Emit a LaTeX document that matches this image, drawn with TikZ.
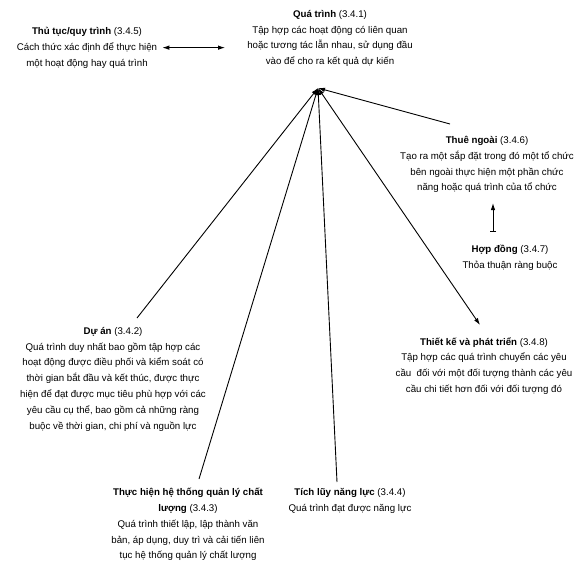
\documentclass[tikz,border=0pt]{standalone}
\usepackage{fontspec}
\setmainfont{Liberation Sans}
\usetikzlibrary{arrows.meta}
\begin{document}
\begin{tikzpicture}[x=1pt,y=1pt,
    txt/.style={align=center, inner sep=1pt, font=\fontsize{9.7}{15.8}\selectfont},
    conn/.style={line width=0.9pt, -{Latex[length=7pt,width=4.5pt]}},
    both/.style={line width=0.9pt, {Latex[length=7pt,width=4.5pt]}-{Latex[length=7pt,width=4.5pt]}}]
    \useasboundingbox (0,0) rectangle (576,-584);

    \node[txt, anchor=north] (qt) at (330,-9) {\textbf{Quá trình} (3.4.1)\\Tập hợp các hoạt động có liên quan\\hoặc tương tác lẫn nhau, sử dụng đầu\\vào để cho ra kết quả dự kiến};
    \node[txt, anchor=north] (tt) at (87,-26) {\textbf{Thủ tục/quy trình} (3.4.5)\\Cách thức xác định để thực hiện\\một hoạt động hay quá trình};
    \node[txt, anchor=north] (tn) at (487,-135) {\textbf{Thuê ngoài} (3.4.6)\\Tạo ra một sắp đặt trong đó một tổ chức\\bên ngoài thực hiện một phần chức\\năng hoặc quá trình của tổ chức};
    \node[txt, anchor=north] (hd) at (510,-244) {\textbf{Hợp đồng} (3.4.7)\\Thỏa thuận ràng buộc};
    \node[txt, anchor=north] (tk) at (484,-336) {\textbf{Thiết kế và phát triển} (3.4.8)\\Tập hợp các quá trình chuyển các yêu\\cầu\ \ đối với một đối tượng thành các yêu\\cầu chi tiết hơn đối với đối tượng đó};
    \node[txt, anchor=north] (da) at (113,-326) {\textbf{Dự án} (3.4.2)\\Quá trình duy nhất bao gồm tập hợp các\\hoạt động được điều phối và kiểm soát có\\thời gian bắt đầu và kết thúc, được thực\\hiện để đạt được mục tiêu phù hợp với các\\yêu cầu cụ thể, bao gồm cả những ràng\\buộc về thời gian, chi phí và nguồn lực};
    \node[txt, anchor=north] (qms) at (188,-487) {\textbf{Thực hiện hệ thống quản lý chất}\\\textbf{lượng} (3.4.3)\\Quá trình thiết lập, lập thành văn\\bản, áp dụng, duy trì và cải tiến liên\\tục hệ thống quản lý chất lượng};
    \node[txt, anchor=north] (tl) at (350,-487) {\textbf{Tích lũy năng lực} (3.4.4)\\Quá trình đạt được năng lực};

    \coordinate (hub) at (318,-88);

    \draw[both] ([xshift=4pt]tt.east) -- ([xshift=-21pt]tt.east -| qt.west);
    \draw[conn] ([shift={(-37pt,11pt)}]tn.north) -- (hub);
    \draw[both] (hub) -- ([shift={(-4pt,11pt)}]tk.north);
    \draw[conn] ([shift={(24pt,8pt)}]da.north) -- (hub);
    \draw[conn] ([shift={(11pt,8pt)}]qms.north) -- (hub);
    \draw[conn] ([shift={(-13pt,5pt)}]tl.north) -- (hub);
    \draw[line width=0.9pt, {Bar[width=6pt]}-{Latex[length=7pt,width=4.5pt]}] ([shift={(-17pt,12pt)}]hd.north) -- ([shift={(6pt,-9pt)}]tn.south);
\end{tikzpicture}
\end{document}
